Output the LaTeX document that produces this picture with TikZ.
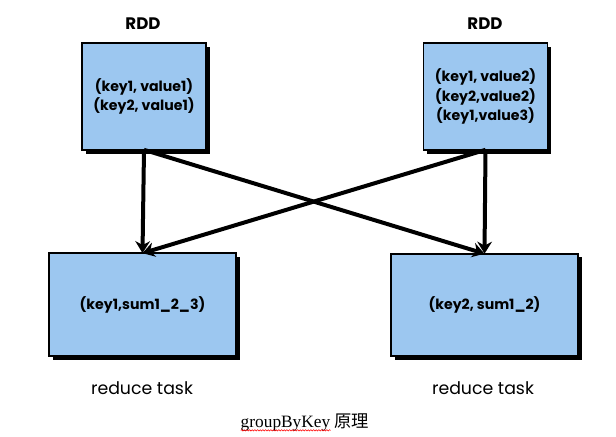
\documentclass[tikz,border=0pt]{standalone}
\usepackage{fontspec}
\setmainfont{Liberation Serif}
\newfontfamily\boxfont{Poppins}
\newfontfamily\cjk{Noto Sans CJK SC}
\usepackage{tikz}
\usetikzlibrary{arrows.meta,decorations.pathmorphing}
\definecolor{rddblue}{RGB}{156,199,240}

\begin{document}
\begin{tikzpicture}[x=0.75pt,y=-0.75pt,
  every node/.style={outer sep=0pt, inner sep=0pt, font=\boxfont},
  rddbox/.style={draw=black, line width=1.4pt, fill=rddblue, align=center,
    preaction={fill=black, transform canvas={xshift=2.8pt, yshift=-2.8pt}}},
  flow/.style={line width=3pt, -{Stealth[length=9pt,width=11pt]}}]
\useasboundingbox (0,0) rectangle (616,436);

\node[font=\boxfont\bfseries\fontsize{12.5}{14}\selectfont] (rddl) at (143,24) {RDD};
\node[font=\boxfont\bfseries\fontsize{12.5}{14}\selectfont] (rddr) at (485,24) {RDD};

\node[rddbox, minimum width=93pt, minimum height=80pt, font=\boxfont\bfseries\fontsize{10.6}{14.5}\selectfont] (mapl) at (144,96.5) {(key1, value1)\\(key2, value1)};
\node[rddbox, minimum width=93pt, minimum height=80pt, font=\boxfont\bfseries\fontsize{10.6}{14.5}\selectfont] (mapr) at (485.5,96.5) {(key1, value2)\\(key2,value2)\\(key1,value3)};

\node[rddbox, minimum width=140pt, minimum height=77pt, font=\boxfont\bfseries\fontsize{10.6}{12}\selectfont] (redl) at (142.5,304.5) {(key1,sum1\_2\_3)};
\node[rddbox, minimum width=140pt, minimum height=77pt, font=\boxfont\bfseries\fontsize{10.6}{12}\selectfont] (redr) at (484.5,305) {(key2, sum1\_2)};

\node[font=\boxfont\fontsize{13}{15}\selectfont] (taskl) at (142,388) {reduce task};
\node[font=\boxfont\fontsize{13}{15}\selectfont] (taskr) at (483,388) {reduce task};

\node[font=\rmfamily\fontsize{13}{15}\selectfont] (caption) at (305,422) {groupByKey {\cjk 原理}};
\draw[red, line width=0.4pt, decorate, decoration={snake, amplitude=0.5pt, segment length=2pt}]
  ([yshift=-2.5pt]caption.base west) -- ([xshift=-29pt,yshift=-2.5pt]caption.base east);

\draw[flow] (mapl.south) -- (redl.north);
\draw[flow] (mapr.south) -- (redr.north);
\draw[flow] (mapl.south) -- (redr.north);
\draw[flow] (mapr.south) -- (redl.north);
\end{tikzpicture}
\end{document}
